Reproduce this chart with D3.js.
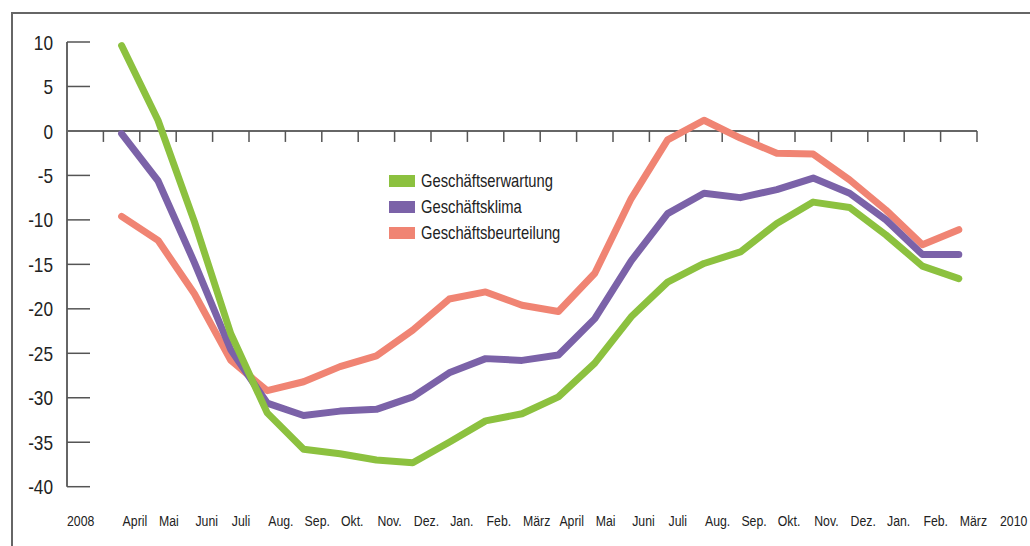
<!DOCTYPE html>
<html>
<head>
<meta charset="utf-8">
<script src="https://cdn.jsdelivr.net/npm/d3@7"></script>
<style>
    body { margin: 0; background: #fff; }
    svg { display: block; }
    text { font-family: "Liberation Sans", Arial, sans-serif; fill: #222; }
</style>
</head>
<body>
<script>
// months from April 2008 to März 2010
var months = ["April", "Mai", "Juni", "Juli", "Aug.", "Sep.", "Okt.", "Nov.", "Dez.", "Jan.", "Feb.", "März",
              "April", "Mai", "Juni", "Juli", "Aug.", "Sep.", "Okt.", "Nov.", "Dez.", "Jan.", "Feb.", "März"];
var yearLabels = ["2008", "2010"];
var yTicks = [10, 5, 0, -5, -10, -15, -20, -25, -30, -35, -40];

var erwartung = [9.6, 1.2, -10.2, -22.8, -31.7, -35.8, -36.3, -37.0, -37.3, -35.0, -32.6, -31.8,
                 -29.9, -26.1, -20.9, -17.0, -14.9, -13.6, -10.4, -8.0, -8.6, -11.7, -15.2, -16.6];
var klima = [-0.3, -5.6, -14.8, -24.6, -30.6, -32.0, -31.5, -31.3, -29.9, -27.2, -25.6, -25.8,
             -25.2, -21.1, -14.6, -9.3, -7.0, -7.5, -6.6, -5.3, -7.0, -10.0, -13.9, -13.9];
var beurteilung = [-9.6, -12.3, -18.3, -25.8, -29.2, -28.2, -26.5, -25.3, -22.4, -18.9, -18.1, -19.6,
                   -20.3, -16.0, -7.6, -1.0, 1.2, -0.8, -2.5, -2.6, -5.5, -8.9, -12.8, -11.1];

var seriesNames = ["Geschäftserwartung", "Geschäftsklima", "Geschäftsbeurteilung"];
var seriesColors = ["#8cc13f", "#7b62a8", "#f08473"];

var width = 1030, height = 546;
var narrow = 0.82; // squeeze Liberation Sans to look like a narrow face

var svg = d3.select("body").append("svg")
    .attr("width", width)
    .attr("height", height);

function place(sel, fx, fy) {
    sel.attr("transform", (d, i) => "translate(" + fx(d, i) + "," + fy(d, i) + ") scale(" + narrow + ",1)");
}

// frame (top and left edges)
svg.append("path")
    .attr("d", "M12,560 L12,13 L1040,13")
    .attr("fill", "none")
    .attr("stroke", "#666")
    .attr("stroke-width", 2);

var x = d3.scaleLinear().domain([0, 25]).range([67, 977]);
var y = d3.scaleLinear().domain([-40, 10]).range([486.7, 42]);

// y axis line and ticks
svg.append("line")
    .attr("x1", x(0)).attr("x2", x(0))
    .attr("y1", y(10)).attr("y2", y(-40))
    .attr("stroke", "#333").attr("stroke-width", 1.5);

svg.selectAll(".ytick").data(yTicks).enter().append("line")
    .attr("x1", x(0)).attr("x2", x(0) + 23)
    .attr("y1", d => y(d)).attr("y2", d => y(d))
    .attr("stroke", "#555").attr("stroke-width", 1.5);

svg.selectAll(".ylabel").data(yTicks).enter().append("text")
    .attr("dy", "0.36em")
    .attr("text-anchor", "end")
    .style("font-size", "21px")
    .text(d => d)
    .call(place, () => 53, d => y(d));

// zero line with month ticks
svg.append("line")
    .attr("x1", x(0)).attr("x2", x(25))
    .attr("y1", y(0)).attr("y2", y(0))
    .attr("stroke", "#666").attr("stroke-width", 2);

svg.selectAll(".xtick").data(d3.range(1, 26)).enter().append("line")
    .attr("x1", d => x(d)).attr("x2", d => x(d))
    .attr("y1", y(0)).attr("y2", y(0) + 11)
    .attr("stroke", "#555").attr("stroke-width", 1.5);

// x labels
svg.selectAll(".mlabel").data(months).enter().append("text")
    .style("font-size", "15px")
    .text(d => d)
    .call(place, (d, i) => x(i + 1.5) + 1, () => 526);

svg.selectAll(".yearlabel").data(yearLabels).enter().append("text")
    .style("font-size", "15px")
    .text(d => d)
    .call(place, (d, i) => i === 0 ? x(0) : x(25) + 23, () => 526);

// lines
var line = d3.line()
    .x((d, i) => x(i + 1.5))
    .y(d => y(d));

[beurteilung, klima, erwartung].forEach(function(vals, k) {
    var idx = 2 - k;
    svg.append("path")
        .datum(vals)
        .attr("d", line)
        .attr("fill", "none")
        .attr("stroke", seriesColors[idx])
        .attr("stroke-width", 7)
        .attr("stroke-linejoin", "round")
        .attr("stroke-linecap", "round");
});

// legend
var legend = svg.selectAll(".legend").data(seriesNames).enter().append("g")
    .attr("transform", (d, i) => "translate(389," + (181 + i * 26) + ")");

legend.append("rect")
    .attr("x", 0).attr("y", -6)
    .attr("width", 26).attr("height", 12)
    .attr("fill", (d, i) => seriesColors[i]);

legend.append("text")
    .attr("dy", "0.36em")
    .style("font-size", "18px")
    .text(d => d)
    .call(place, () => 32, () => 0);
</script>
</body>
</html>
